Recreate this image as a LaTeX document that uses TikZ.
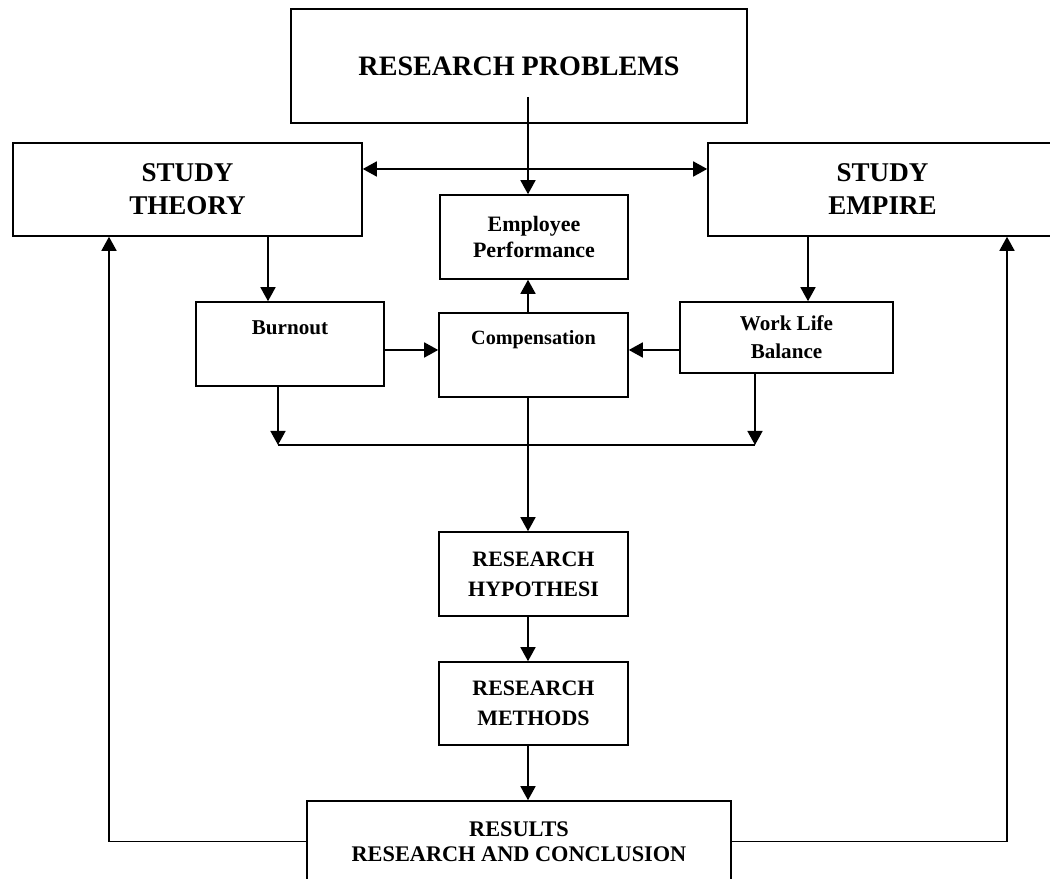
\documentclass[tikz,border=0pt]{standalone}
\usepackage{fontspec}
\setmainfont{Liberation Serif}
\usetikzlibrary{arrows.meta}

\begin{document}
\begin{tikzpicture}[
		blok/.style={draw, line width=0.9pt, align=center},
		lin/.style={line width=0.9pt},
		arr/.style={line width=0.9pt, -{Triangle[length=0.28cm, width=0.3cm]}},
		twoarr/.style={line width=0.9pt, {Triangle[length=0.28cm, width=0.3cm]}-{Triangle[length=0.28cm, width=0.3cm]}}]
			%%%%% START %%%%%
			
			\useasboundingbox (0, 0) rectangle (21, 17.58);
			
			\node[blok, minimum width=9.12cm, minimum height=2.28cm, font=\bfseries\fontsize{16}{19}\selectfont] (problems) at (10.38, 16.26) {RESEARCH PROBLEMS};
			
			\node[blok, minimum width=6.98cm, minimum height=1.86cm, font=\bfseries\fontsize{15.4}{18.8}\selectfont] (theory) at (3.75, 13.79) {STUDY\\THEORY};
			\node[blok, minimum width=6.98cm, minimum height=1.86cm, font=\bfseries\fontsize{15.4}{18.8}\selectfont] (empire) at (17.65, 13.79) {STUDY\\EMPIRE};
			
			\node[blok, minimum width=3.76cm, minimum height=1.68cm, font=\bfseries\fontsize{12.5}{14.8}\selectfont] (ep) at (10.68, 12.84) {Employee\\Performance};
			
			\node[blok, minimum width=3.76cm, minimum height=1.68cm, inner ysep=0pt, text height=0.66cm, text depth=1.02cm, font=\bfseries\fontsize{12}{14}\selectfont] (burnout) at (5.80, 10.70) {Burnout};
			\node[blok, minimum width=3.78cm, minimum height=1.68cm, inner ysep=0pt, text height=0.64cm, text depth=1.04cm, font=\bfseries\fontsize{11.5}{14}\selectfont] (comp) at (10.67, 10.48) {Compensation};
			\node[blok, minimum width=4.26cm, minimum height=1.42cm, font=\bfseries\fontsize{12}{16}\selectfont] (wlb) at (15.73, 10.83) {Work Life\\Balance};
			
			\node[blok, minimum width=3.78cm, minimum height=1.68cm, font=\bfseries\fontsize{12.5}{17}\selectfont] (hyp) at (10.67, 6.10) {RESEARCH\\HYPOTHESI};
			\node[blok, minimum width=3.78cm, minimum height=1.66cm, font=\bfseries\fontsize{12.5}{17}\selectfont] (methods) at (10.67, 3.51) {RESEARCH\\METHODS};
			\node[blok, minimum width=8.48cm, minimum height=1.62cm, font=\bfseries\fontsize{12.7}{14.2}\selectfont] (results) at (10.38, 0.75) {RESULTS\\RESEARCH AND CONCLUSION};
			
			\coordinate (axis) at (10.56, 15.64);
			\coordinate (link) at (10.56, 14.20);
			\coordinate (tdown) at (5.36, 0);
			\coordinate (edown) at (16.16, 0);
			\coordinate (side) at (0, 10.58);
			\coordinate (busl) at (5.56, 8.68);
			\coordinate (busr) at (15.10, 8.68);
			\coordinate (backl) at (2.18, 0);
			\coordinate (backr) at (20.14, 0);
			
			\draw[arr] (axis) -- (ep.north -| axis);
			\draw[twoarr] (theory.east |- link) -- (empire.west |- link);
			
			\draw[arr] (theory.south -| tdown) -- (burnout.north -| tdown);
			\draw[arr] (empire.south -| edown) -- (wlb.north -| edown);
			
			\draw[arr] (burnout.east |- side) -- (comp.west |- side);
			\draw[arr] (wlb.west |- side) -- (comp.east |- side);
			\draw[arr] (comp.north -| axis) -- (ep.south -| axis);
			
			\draw[arr] (burnout.south -| busl) -- (busl);
			\draw[arr] (wlb.south -| busr) -- (busr);
			\draw[lin] (busl) -- (busr);
			
			\draw[arr] (comp.south -| axis) -- (hyp.north -| axis);
			\draw[arr] (hyp.south -| axis) -- (methods.north -| axis);
			\draw[arr] (methods.south -| axis) -- (results.north -| axis);
			
			\draw[arr] (results.west) -| (theory.south -| backl);
			\draw[arr] (results.east) -| (empire.south -| backr);
			
			%%%%% END %%%%%
		\end{tikzpicture}
\end{document}
